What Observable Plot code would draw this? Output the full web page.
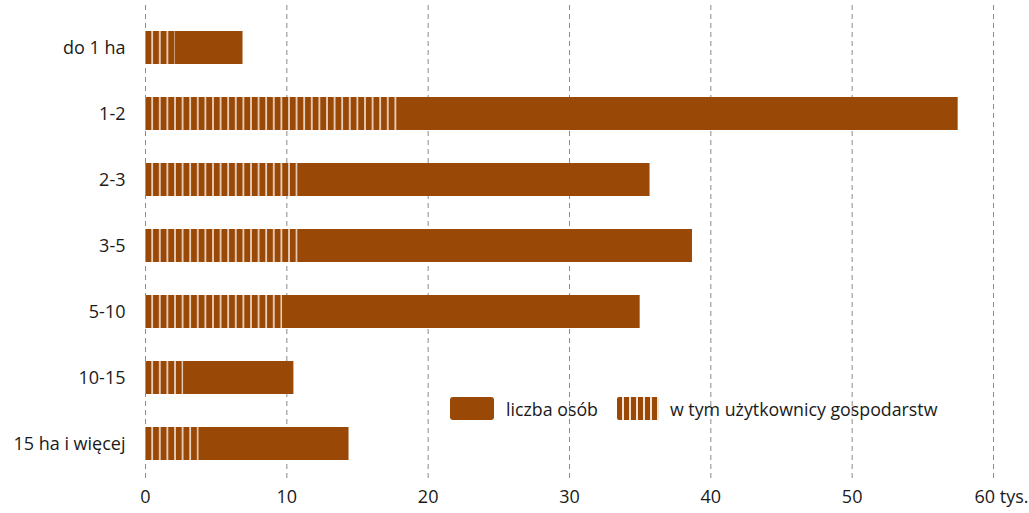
<!DOCTYPE html>
<html>
<head>
<meta charset="utf-8">
<script src="https://cdn.jsdelivr.net/npm/d3@7"></script>
<script src="https://cdn.jsdelivr.net/npm/@observablehq/plot@0.6"></script>
<style>
  html, body { margin: 0; padding: 0; background: #fff; }
  #wrap { position: relative; width: 1029px; height: 513px; font-family: "Open Sans", "Noto Sans", sans-serif; }
  #legend { position: absolute; left: 450px; top: 397px; height: 23px; display: flex; align-items: center; font-size: 17.8px; color: #1a1a1a; white-space: nowrap; }
  .sw { width: 44px; height: 23px; border-radius: 3px; background: #994806; flex: none; }
  .sw2 { width: 42px; height: 23px; border-radius: 2px; flex: none;
    background: repeating-linear-gradient(90deg, #994806 0px, #994806 5.5px, #f3e2d6 5.5px, #f3e2d6 7px); }
</style>
</head>
<body>
<div id="wrap">
  <div id="chart"></div>
  <div id="legend">
    <div class="sw"></div><span style="margin-left:12px;margin-right:19px">liczba osób</span>
    <div class="sw2"></div><span style="margin-left:11px">w tym użytkownicy gospodarstw</span>
  </div>
</div>
<script>
const categories = ["do 1 ha", "1-2", "2-3", "3-5", "5-10", "10-15", "15 ha i więcej"];
const total = [6.9, 57.5, 35.7, 38.7, 35.0, 10.5, 14.4];
const users = [2.1, 17.9, 10.8, 10.8, 9.7, 2.7, 3.8];
const xTicks = [0, 10, 20, 30, 40, 50, 60];
const xTickLabels = ["0", "10", "20", "30", "40", "50", "60 tys."];

const barColor = "#994806";
const data = categories.map((c, i) => ({cat: c, total: total[i], users: users[i]}));

const plot = Plot.plot({
  width: 1029,
  height: 513,
  marginLeft: 145,
  marginRight: 36,
  marginTop: 5,
  marginBottom: 35,
  style: {fontFamily: "'Open Sans', 'Noto Sans', sans-serif", fontSize: "18px", color: "#1a1a1a", background: "#fff"},
  x: {domain: [0, 60], ticks: xTicks, label: null},
  y: {domain: categories, paddingInner: 0.5, paddingOuter: 0.25, insetTop: 8, label: null},
  marks: [
    Plot.gridX(xTicks, {stroke: "#8a8a8a", strokeOpacity: 1, strokeDasharray: "5,4", strokeWidth: 1}),
    Plot.barX(data, {x: "total", y: "cat", fill: barColor}),
    Plot.barX(data, {x: "users", y: "cat", fill: "url(#stripes)"}),
    Plot.axisX(xTicks, {tickSize: 0, tickPadding: 12, fontSize: 18, label: null,
      tickFormat: (d) => xTickLabels[xTicks.indexOf(d)]}),
    Plot.axisY({tickSize: 0, tickPadding: 20, fontSize: 18, label: null})
  ]
});

const svg = d3.select(plot);
const defs = svg.insert("defs", ":first-child");
const pat = defs.append("pattern")
  .attr("id", "stripes")
  .attr("patternUnits", "userSpaceOnUse")
  .attr("x", 145.5)
  .attr("y", 0)
  .attr("width", 7.6)
  .attr("height", 10);
pat.append("rect").attr("width", 7.6).attr("height", 10).attr("fill", barColor);
pat.append("rect").attr("x", 5.9).attr("width", 1.6).attr("height", 10).attr("fill", "#f3e2d6");

// nudge the unit-bearing last tick label so that "60" sits near its gridline
svg.selectAll('g[aria-label="x-axis tick label"] text')
  .filter(function() { return this.textContent.includes("tys."); })
  .attr("dx", 8);

document.getElementById("chart").appendChild(plot);
</script>
</body>
</html>
